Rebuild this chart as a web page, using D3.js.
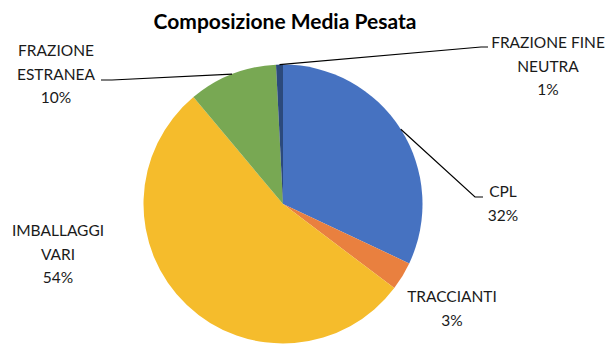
<!DOCTYPE html>
<html><head><meta charset="utf-8">
<script src="https://cdn.jsdelivr.net/npm/d3@7"></script>
<style>html,body{margin:0;padding:0;background:#fff;}svg{display:block;}</style>
</head><body>
<svg id="c" width="606" height="345"></svg>
<script>
const categories = ["CPL", "TRACCIANTI", "IMBALLAGGI VARI", "FRAZIONE ESTRANEA", "FRAZIONE FINE NEUTRA"];
const values = [32.0, 3.3, 53.6, 10.3, 0.8];
const percentLabels = ["32%", "3%", "54%", "10%", "1%"];
const colors = ["#4672C1", "#E9803F", "#F5BC2C", "#78A853", "#2C4A7C"];
const title = "Composizione Media Pesata";

const svg = d3.select("#c");
const W = 606, H = 345;
const cx = 283, cy = 204, R = 139.5;
const font = "Lato, 'Open Sans', sans-serif";

svg.append("text").attr("x", 285).attr("y", 29).attr("text-anchor", "middle")
  .attr("font-family", font).attr("font-weight", "bold").attr("font-size", 21)
  .attr("fill", "#000").text(title);

const data = categories.map((c, i) => ({cat: c, v: values[i], pct: percentLabels[i], col: colors[i]}));
const pie = d3.pie().value(d => d.v).sort(null);
const arcs = pie(data);
const arc = d3.arc().innerRadius(0).outerRadius(R);

const g = svg.append("g").attr("transform", `translate(${cx},${cy})`);
g.selectAll("path").data(arcs).enter().append("path")
  .attr("d", arc).attr("fill", d => d.data.col);

// label layout: lines of text, anchor center x, first baseline y, leader end point (absolute)
const layout = [
  {lines: ["CPL", "32%"], x: 503, y: 197, leader: [[475, 197], [483, 197]]},
  {lines: ["TRACCIANTI", "3%"], x: 452, y: 302, leader: null},
  {lines: ["IMBALLAGGI", "VARI", "54%"], x: 58, y: 236, leader: null},
  {lines: ["FRAZIONE", "ESTRANEA", "10%"], x: 56, y: 56, leader: [[112, 80], [101, 80]]},
  {lines: ["FRAZIONE FINE", "NEUTRA", "1%"], x: 548, y: 48, leader: [[481, 47], [488, 47]]}
];

arcs.forEach((a, i) => {
  const L = layout[i];
  const t = svg.append("text").attr("font-family", font).attr("font-size", 15.5)
    .attr("fill", "#1a1a1a").attr("text-anchor", "middle");
  L.lines.forEach((ln, j) => {
    t.append("tspan").attr("x", L.x).attr("y", L.y + j * 23.5).text(ln);
  });
  if (L.leader) {
    const mid = (a.startAngle + a.endAngle) / 2;
    const sx = cx + Math.sin(mid) * R, sy = cy - Math.cos(mid) * R;
    const pts = [[sx, sy], ...L.leader];
    svg.append("path").attr("d", d3.line()(pts)).attr("fill", "none")
      .attr("stroke", "#000").attr("stroke-width", 1.2);
  }
});
</script>
</body></html>
